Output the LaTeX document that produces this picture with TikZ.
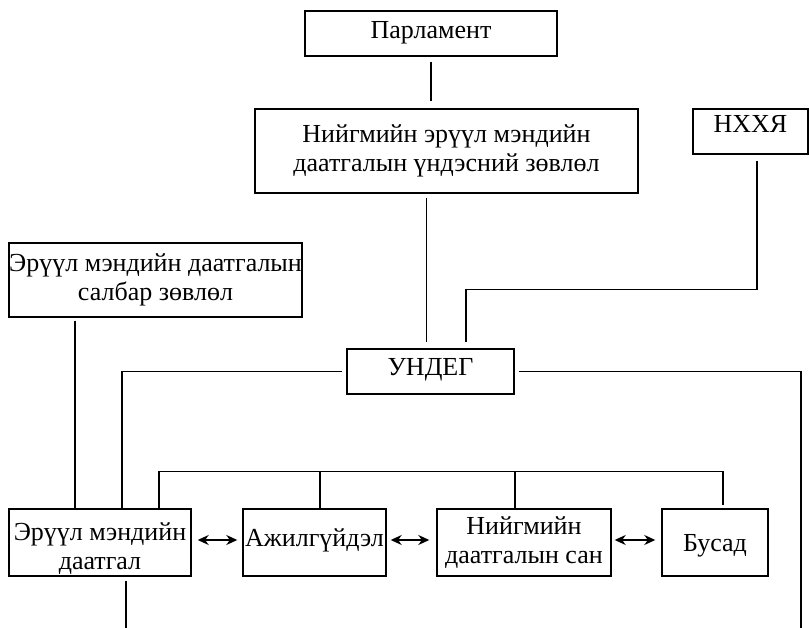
\documentclass[tikz,border=0pt]{standalone}
\usepackage{fontspec}
\setmainfont{Liberation Serif}
\usetikzlibrary{arrows.meta}
\begin{document}
\begin{tikzpicture}[x=1pt,y=-1pt,
  txt/.style={align=center, font=\fontsize{26}{29}\selectfont},
  box/.style={draw, line width=1.4pt, inner sep=0pt, txt},
  conn/.style={line width=1.4pt},
  biarrow/.style={line width=1.7pt, {Stealth[length=11pt,width=10pt]}-{Stealth[length=11pt,width=10pt]}}]
\useasboundingbox (0,0) rectangle (809,628);
% boxes
\node[box, minimum width=252pt, minimum height=45pt, text height=18pt, text depth=8pt] (parl) at (431,33.5) {Парламент};
\node[box, minimum width=383pt, minimum height=84pt] (ndz) at (446.5,151) {Нийгмийн эрүүл мэндийн\\даатгалын үндэсний зөвлөл};
\node[box, minimum width=115pt, minimum height=45pt, text height=17pt, text depth=15pt] (nhhya) at (750.5,131.5) {НХХЯ};
\node[box, minimum width=293pt, minimum height=74pt] (salbar) at (155.5,280) {Эрүүл мэндийн даатгалын\\салбар зөвлөл};
\node[box, minimum width=167pt, minimum height=45pt, text height=18pt, text depth=9pt] (undeg) at (430.5,371.5) {УНДЕГ};
\node[box, minimum width=182pt, minimum height=67pt,
  label={[txt, yshift=-6pt]center:Эрүүл мэндийн\\даатгал}] (emd) at (100,542.5) {};
\node[box, minimum width=143pt, minimum height=67pt, text height=18pt, text depth=10pt] (ajil) at (314.5,542.5) {Ажилгүйдэл};
\node[box, minimum width=174pt, minimum height=67pt] (nds) at (524,542.5) {Нийгмийн\\даатгалын сан};
\node[box, minimum width=106pt, minimum height=67pt, text height=18pt, text depth=0pt] (busad) at (715,542.5) {Бусад};
% free ends
\coordinate (outR) at (801,628);
\coordinate (outB) at (126,628);
% connectors
\draw[conn, shorten <=5pt, shorten >=7pt] (parl.south) -- (parl.south |- ndz.north);
\draw[conn, shorten <=4pt, shorten >=6pt] ([xshift=-4pt]undeg.north |- ndz.south) -- ([xshift=-4pt]undeg.north);
\draw[conn] ([xshift=6.5pt,yshift=-6pt]nhhya.south) |- ([xshift=35.5pt,yshift=59pt]undeg.north) -- ([xshift=35.5pt,yshift=6pt]undeg.north);
\draw[conn, shorten <=3pt] ([xshift=-25pt]emd.north |- salbar.south) -- ([xshift=-25pt]emd.north);
\draw[conn] ([xshift=-4pt]undeg.west) -| ([xshift=22pt]emd.north);
\draw[conn] ([xshift=4pt]undeg.east) -| (outR);
\draw[conn, shorten <=4pt] ([xshift=26pt]emd.south) -- (outB);
% bus
\draw[conn] ([xshift=59pt]emd.north) |- ([xshift=8pt,yshift=37pt]busad.north) -- ([xshift=8pt,yshift=3pt]busad.north);
\draw[conn] ([xshift=5.5pt,yshift=37pt]ajil.north) -- ([xshift=5.5pt]ajil.north);
\draw[conn] ([xshift=-9pt,yshift=37pt]nds.north) -- ([xshift=-9pt]nds.north);
% arrows
\draw[biarrow, shorten <=6pt, shorten >=5pt] ([yshift=2.5pt]emd.east) -- ([yshift=2.5pt]emd.east -| ajil.west);
\draw[biarrow, shorten <=4pt, shorten >=7pt] ([yshift=2.5pt]ajil.east) -- ([yshift=2.5pt]ajil.east -| nds.west);
\draw[biarrow, shorten <=3pt, shorten >=6pt] ([yshift=2.5pt]nds.east) -- ([yshift=2.5pt]nds.east -| busad.west);
\end{tikzpicture}
\end{document}
